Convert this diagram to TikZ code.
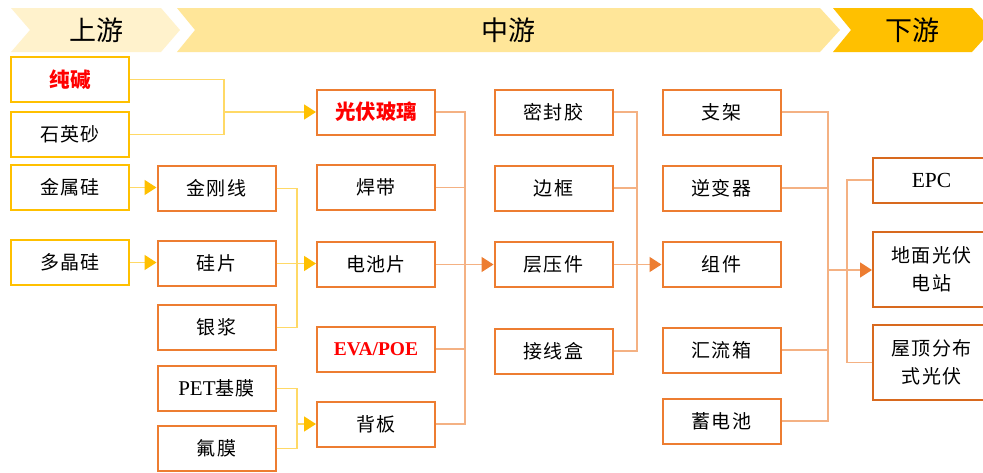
\documentclass[tikz,border=0pt]{standalone}
\usepackage{fontspec}
\usetikzlibrary{arrows.meta}
\setmainfont{Liberation Serif}
\newfontfamily\cjk{Noto Sans CJK SC}
\newfontfamily\cjks[LetterSpace=6]{Noto Sans CJK SC}
\definecolor{gold}{HTML}{FFC000}
\definecolor{goldln}{HTML}{FFD966}
\definecolor{org}{HTML}{ED7D31}
\definecolor{orgln}{HTML}{F4B183}
\definecolor{orgdk}{HTML}{D8691E}
\definecolor{hdA}{HTML}{FFF2CC}
\definecolor{hdB}{HTML}{FFE699}
\definecolor{hdC}{HTML}{FFC000}
\definecolor{redtx}{HTML}{FF0000}
\tikzset{
  base/.style={rectangle, draw, line width=2pt, minimum width=118pt, minimum height=45pt, inner sep=0pt, align=center, text=black, font=\cjks\fontsize{19}{28}\selectfont},
  gbox/.style={base, draw=gold},
  obox/.style={base, draw=org},
  rbox/.style={base, draw=orgdk, minimum width=117pt},
  gline/.style={draw=goldln, line width=1.6pt},
  oline/.style={draw=orgln, line width=1.6pt},
  garrow/.style={gline, -{Triangle[length=12pt,width=15pt,color=gold]}},
  oarrow/.style={oline, -{Triangle[length=12pt,width=15pt,color=org]}},
  hdtext/.style={font=\cjk\fontsize{27}{30}\selectfont, text=black},
  redbold/.style={font=\cjk\bfseries\fontsize{20.5}{24}\selectfont, text=redtx}
}
\begin{document}
\begin{tikzpicture}[x=1pt,y=-1pt]
\useasboundingbox (0,0) rectangle (983,472);
\fill[white] (0,0) rectangle (983,472);
% header chevrons
\fill[hdA] (11,8) -- (161,8) -- (180,30) -- (161,52) -- (11,52) -- (30,30) -- cycle;
\fill[hdB] (177,8) -- (820,8) -- (840,30) -- (820,52) -- (177,52) -- (195,30) -- cycle;
\fill[hdC] (833,8) -- (972,8) -- (992,30) -- (972,52) -- (833,52) -- (851,30) -- cycle;
\node[hdtext] (hA) at (96,30) {上游};
\node[hdtext] (hB) at (508,30) {中游};
\node[hdtext] (hC) at (912,30) {下游};

% column 1
\node[gbox] (cj)  at (70,79.5)  {};
\node[redbold] (cjt) at (cj.center) {纯碱};
\node[gbox] (sys) at (70,134.5) {石英砂};
\node[gbox] (jsg) at (70,187.5) {金属硅};
\node[gbox] (djg) at (70,262.5) {多晶硅};
% column 2
\node[obox] (jgx) at (216.5,188.5) {金刚线};
\node[obox] (gp)  at (216.5,263.5) {硅片};
\node[obox] (yj)  at (216.5,327.5) {银浆};
\node[obox] (pet) at (216.5,388.5) {{\fontspec{Liberation Serif}\fontsize{21}{24}\selectfont PET}基膜};
\node[obox] (fm)  at (216.5,448.5) {氟膜};
% column 3
\node[obox] (gfbl) at (376,112) {};
\node[redbold] (gfblt) at (gfbl.center) {光伏玻璃};
\node[obox] (hd)   at (376,187.5) {焊带};
\node[obox] (dcp)  at (376,264.5) {电池片};
\node[obox, font=\fontspec{Liberation Serif}\bfseries\fontsize{19.5}{24}\selectfont, text=redtx] (eva) at (376,349) {EVA/POE};
\node[obox] (bb)   at (376,424) {背板};
% column 4
\node[obox] (mfj) at (553.5,112) {密封胶};
\node[obox] (bk)  at (553.5,188) {边框};
\node[obox] (cyj) at (553.5,264.5) {层压件};
\node[obox] (jxh) at (553.5,351) {接线盒};
% column 5
\node[obox] (zj)  at (721.5,112) {支架};
\node[obox] (nbq) at (721.5,188) {逆变器};
\node[obox] (zuj) at (721.5,264.5) {组件};
\node[obox] (hlx) at (721.5,350) {汇流箱};
\node[obox] (xdc) at (721.5,421) {蓄电池};
% column 6
\node[rbox, font=\fontspec{Liberation Serif}\fontsize{21.5}{24}\selectfont] (epc) at (931.5,180) {EPC};
\node[rbox, minimum height=75pt] (dm) at (931.5,269.5) {地面光伏\\电站};
\node[rbox, minimum height=75pt] (wd) at (931.5,362.5) {屋顶分布\\式光伏};

% junctions
\coordinate (j1) at (224,112);
\coordinate (j2) at (297,264);
\coordinate (j3) at (297,424);
\coordinate (j4) at (465,264.5);
\coordinate (j5) at (637,264.5);
\coordinate (j6) at (828,270);
\coordinate (j7) at (847,362.5);

% gold connectors
\draw[gline] (cj.east) -| (j1);
\draw[gline] (sys.east) -| (j1);
\draw[garrow] (j1) -- (gfbl.west);
\draw[garrow] (jsg.east) -- (jsg.east -| jgx.west);
\draw[garrow] (djg.east) -- (djg.east -| gp.west);
\draw[gline] (jgx.east) -| (j2);
\draw[gline] (yj.east) -| (j2);
\draw[garrow] (gp.east) -- (gp.east -| dcp.west);
\draw[gline] (pet.east) -| (j3);
\draw[gline] (fm.east) -| (j3);
\draw[garrow] (j3) -- (bb.west);

% orange connectors
\draw[oline] (gfbl.east) -| (j4);
\draw[oline] (hd.east) -| (j4);
\draw[oline] (eva.east) -| (j4);
\draw[oline] (bb.east) -| (j4);
\draw[oarrow] (dcp.east) -- (cyj.west);
\draw[oline] (mfj.east) -| (j5);
\draw[oline] (bk.east) -| (j5);
\draw[oline] (jxh.east) -| (j5);
\draw[oarrow] (cyj.east) -- (zuj.west);
\draw[oline] (zj.east) -| (j6);
\draw[oline] (nbq.east) -| (j6);
\draw[oline] (hlx.east) -| (j6);
\draw[oline] (xdc.east) -| (j6);
\draw[oarrow] (j6) -- (j6 -| dm.west);
\draw[oline] (epc.west) -| (j7) -- (wd.west);
\end{tikzpicture}
\end{document}
